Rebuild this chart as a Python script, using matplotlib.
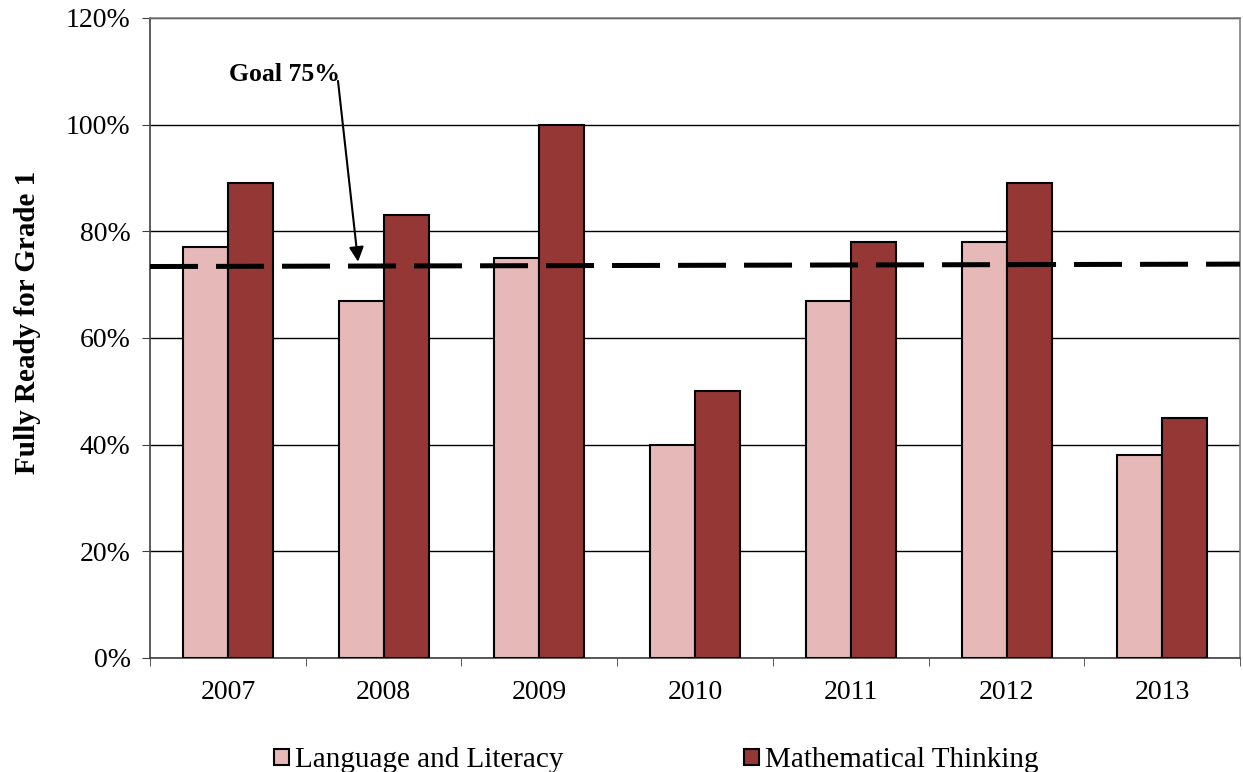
import numpy as np
import matplotlib
matplotlib.use("Agg")
from matplotlib import pyplot as plt
from matplotlib.patches import Patch

plt.rcParams['font.family'] = ['Liberation Serif', 'DejaVu Serif']

# Data
years = ['2007', '2008', '2009', '2010', '2011', '2012', '2013']
language = [77, 67, 75, 40, 67, 78, 38]
math = [89, 83, 100, 50, 78, 89, 45]
goal_start, goal_end = 73.4, 73.85

light = '#e6b8b7'
dark = '#953735'

fig = plt.figure(figsize=(12.43, 7.72), dpi=100)
ax = fig.add_axes([0.1207, 0.1477, 0.877, 0.829])

x = np.arange(len(years))
w = 0.289
ax.bar(x - w/2, language, w, color=light, edgecolor='black', linewidth=1.5, zorder=3,
       label='Language and Literacy')
ax.bar(x + w/2, math, w, color=dark, edgecolor='black', linewidth=1.5, zorder=3,
       label='Mathematical Thinking')

# Goal line
ax.plot([-0.5, 6.5], [goal_start, goal_end], color='black', lw=3.6,
        dashes=(9.6, 3.6), zorder=4, solid_capstyle='butt', dash_capstyle='butt')

ax.text(0.72, 109.4, 'Goal 75%', ha='right', va='center', fontsize=18.5,
        fontweight='bold')
ax.annotate('', xy=(0.836, 74.3), xytext=(0.707, 108.2),
            arrowprops=dict(arrowstyle='-|>', color='black', lw=1.5,
                            mutation_scale=22, shrinkA=0, shrinkB=0), zorder=5)

ax.set_xlim(-0.5, 6.5)
ax.set_ylim(0, 120)
ax.set_yticks(np.arange(0, 121, 20))
ax.set_yticklabels([f'{v}%' for v in range(0, 121, 20)], fontsize=20)
ax.yaxis.grid(True, color='black', lw=1, zorder=0)
ax.set_axisbelow(True)

ax.set_xticks(x)
ax.set_xticklabels(years, fontsize=20)
ax.set_xticks(np.arange(-0.5, 7, 1), minor=True)
ax.tick_params(axis='x', which='major', length=0, pad=16)
ax.tick_params(axis='x', which='minor', length=6, direction='out', color='#404040')
ax.tick_params(axis='y', length=6, direction='out', color='#404040', pad=8)

for s in ['left', 'bottom']:
    ax.spines[s].set_color('#404040')
    ax.spines[s].set_linewidth(1.2)
for s in ['top', 'right']:
    ax.spines[s].set_color('#808080')
    ax.spines[s].set_linewidth(1.2)

ax.set_ylabel('Fully Ready for Grade 1', fontsize=21, fontweight='bold')
ax.yaxis.set_label_coords(-0.1, 0.525)

handles = [Patch(facecolor=light, edgecolor='black', lw=1.5),
           Patch(facecolor=dark, edgecolor='black', lw=1.5)]
fig.legend(handles, ['Language and Literacy', 'Mathematical Thinking'],
           loc='center', bbox_to_anchor=(0.528, 0.015), ncol=2, frameon=False,
           fontsize=21, handlelength=0.51, handleheight=0.51, handletextpad=0.2,
           columnspacing=6.2)

fig.savefig('out.png', dpi=100)
